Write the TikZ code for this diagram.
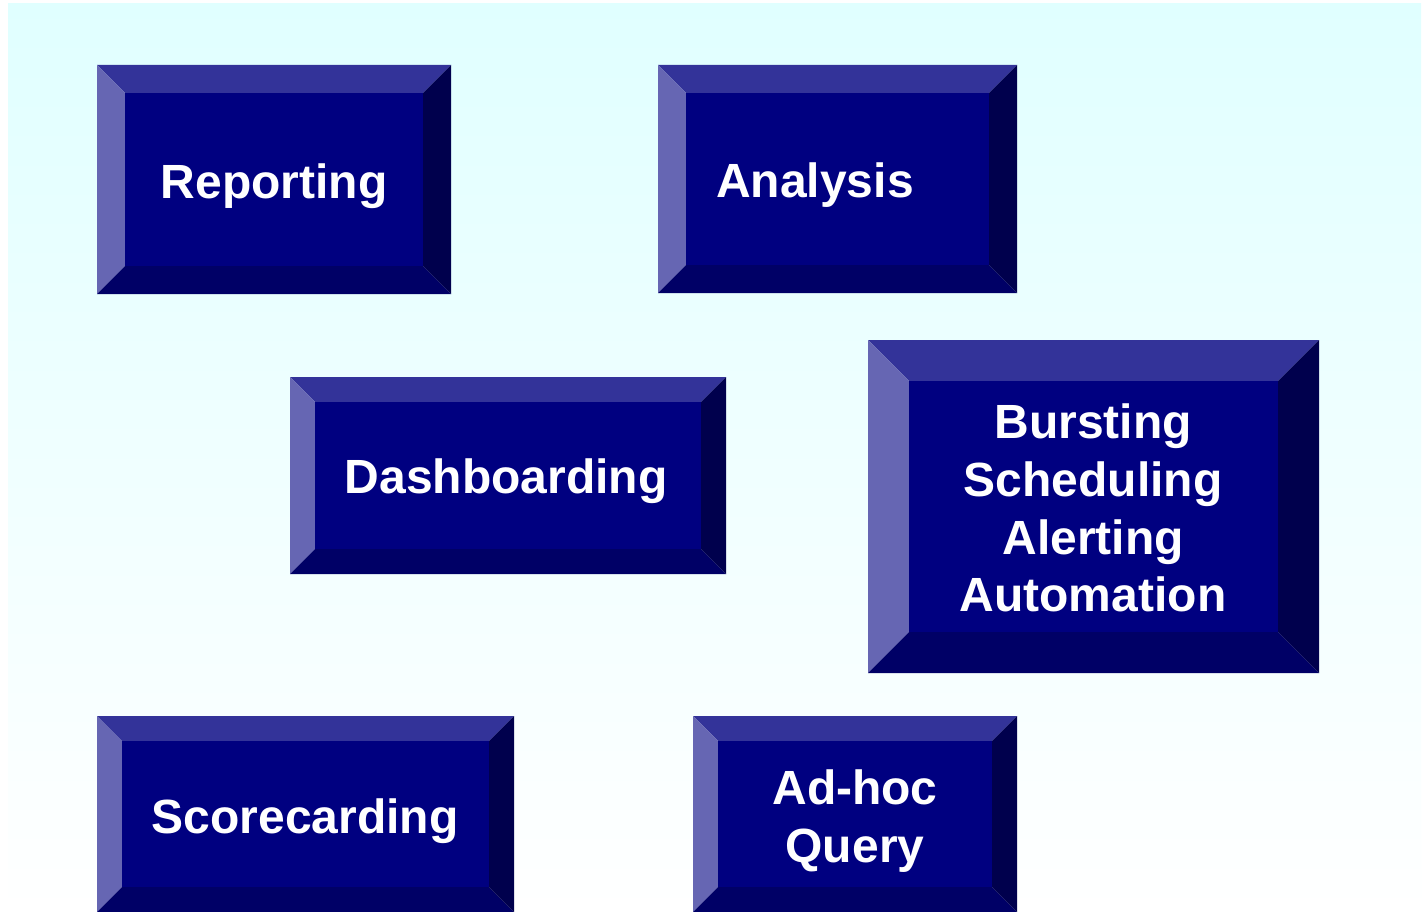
\documentclass[tikz,border=0pt]{standalone}
\usepackage{fontspec}
\setmainfont{Liberation Sans}
\definecolor{bgtop}{RGB}{224,255,255}
\definecolor{bvtop}{RGB}{51,51,153}
\definecolor{bvleft}{RGB}{102,102,179}
\definecolor{bvface}{RGB}{0,0,128}
\definecolor{bvbottom}{RGB}{0,0,102}
\definecolor{bvright}{RGB}{0,0,77}
% #1 name, #2 x1, #3 y1, #4 x2, #5 y2, #6 bevel width
\newcommand\bevelbox[6]{%
  \coordinate (#1-onw) at (#2,#3);
  \coordinate (#1-one) at (#4,#3);
  \coordinate (#1-ose) at (#4,#5);
  \coordinate (#1-osw) at (#2,#5);
  \coordinate (#1-inw) at (#2+#6,#3+#6);
  \coordinate (#1-ine) at (#4-#6,#3+#6);
  \coordinate (#1-ise) at (#4-#6,#5-#6);
  \coordinate (#1-isw) at (#2+#6,#5-#6);
  \fill[bvtop] (#1-onw) -- (#1-one) -- (#1-ine) -- (#1-inw) -- cycle;
  \fill[bvleft] (#1-onw) -- (#1-inw) -- (#1-isw) -- (#1-osw) -- cycle;
  \fill[bvbottom] (#1-osw) -- (#1-isw) -- (#1-ise) -- (#1-ose) -- cycle;
  \fill[bvright] (#1-one) -- (#1-ose) -- (#1-ise) -- (#1-ine) -- cycle;
  \fill[bvface] (#1-inw) rectangle (#1-ise);
}
\tikzset{
  boxlabel/.style={text=white, align=center, inner sep=0pt,
    font=\fontsize{48}{57.7}\selectfont\bfseries}
}
\begin{document}
\begin{tikzpicture}[x=1pt,y=-1pt]
\useasboundingbox (0,0) rectangle (1423,912);
\fill[white] (0,0) rectangle (1423,912);
\shade[top color=bgtop, bottom color=white] (8,4) rectangle (1421,912);

\bevelbox{rep}{97}{65}{451}{294}{28}
\bevelbox{ana}{658}{65}{1017}{293}{28}
\bevelbox{dash}{290}{377}{726}{574}{25}
\bevelbox{burst}{868}{340}{1319}{673}{41}
\bevelbox{score}{97}{716}{514}{912}{25}
\bevelbox{adhoc}{693}{716}{1017}{912}{25}

\node[boxlabel] (reporting) at (274,186) {Reporting};
\node[boxlabel] (analysis) at (815,185) {Analysis};
\node[boxlabel] (dashboarding) at (506,481) {Dashboarding};
\node[boxlabel] (bursting) at (1093,508) {Bursting\\Scheduling\\Alerting\\Automation};
\node[boxlabel] (scorecarding) at (305,821) {Scorecarding};
\node[boxlabel] (adhoc) at (855,821) {Ad-hoc\\Query};
\end{tikzpicture}
\end{document}
